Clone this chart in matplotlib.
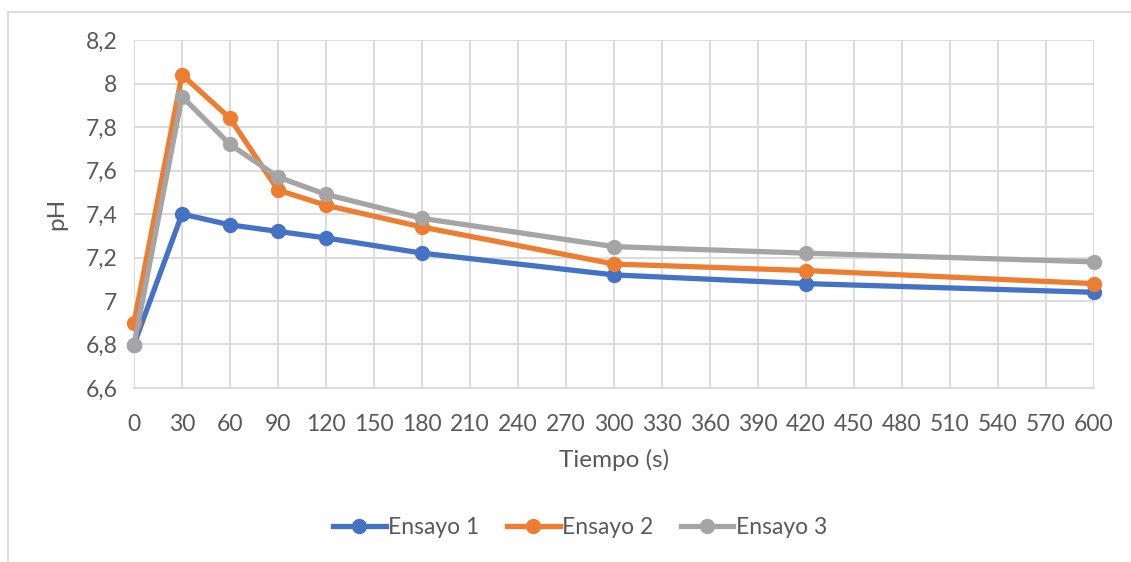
import matplotlib
matplotlib.use("Agg")
import matplotlib.pyplot as plt
from matplotlib.ticker import FuncFormatter, MultipleLocator
from matplotlib.lines import Line2D

# data
tiempo = [0, 30, 60, 90, 120, 180, 300, 420, 600]
ensayo1 = [6.80, 7.40, 7.35, 7.32, 7.29, 7.22, 7.12, 7.08, 7.04]
ensayo2 = [6.90, 8.04, 7.84, 7.51, 7.44, 7.34, 7.17, 7.14, 7.08]
ensayo3 = [6.80, 7.94, 7.72, 7.57, 7.49, 7.38, 7.25, 7.22, 7.18]
nombres = ["Ensayo 1", "Ensayo 2", "Ensayo 3"]
colores = ["#4472C4", "#ED7D31", "#A5A5A5"]

plt.rcParams['font.family'] = ['Lato', 'DejaVu Sans']
txt = "#595959"

fig = plt.figure(figsize=(11.31, 5.62), dpi=100)
ax = fig.add_axes([134 / 1131, 1 - 388 / 562, 960 / 1131, 348 / 562])

for serie, nom, col in zip([ensayo1, ensayo2, ensayo3], nombres, colores):
    ax.plot(tiempo, serie, color=col, lw=3.8, marker='o', markersize=10,
            label=nom, solid_capstyle='round', clip_on=False)

ax.set_xlim(0, 600)
ax.set_ylim(6.6, 8.2)
ax.xaxis.set_major_locator(MultipleLocator(30))
ax.yaxis.set_major_locator(MultipleLocator(0.2))
ax.yaxis.set_major_formatter(FuncFormatter(lambda v, p: f"{round(v, 1):g}".replace('.', ',')))
ax.grid(True, color="#D9D9D9", lw=1.3)
ax.set_axisbelow(True)
for s in ['top', 'right', 'left']:
    ax.spines[s].set_visible(False)
ax.spines['bottom'].set_color("#D9D9D9")
ax.spines['bottom'].set_linewidth(1.3)
ax.tick_params(length=0, labelsize=16.5, colors=txt)
ax.tick_params(axis='x', pad=19)
ax.tick_params(axis='y', pad=12)

ax.set_xlabel("Tiempo (s)", fontsize=17.5, color=txt, labelpad=10)
ax.set_ylabel("pH", fontsize=17.5, color=txt, labelpad=13)

handles = [Line2D([0], [0], color=c, lw=3.8, marker='o', markersize=10) for c in colores]
fig.legend(handles, nombres, loc='center', bbox_to_anchor=(580 / 1131, 1 - 528 / 562),
           ncol=3, frameon=False, fontsize=16.5, labelcolor=txt,
           handlelength=2.3, handletextpad=0.1, columnspacing=1.2)

# chart frame
fig.add_artist(Line2D([8 / 1131, 8 / 1131], [0, 1 - 12 / 562], color="#D9D9D9", lw=1.3,
                      transform=fig.transFigure))
fig.add_artist(Line2D([8 / 1131, 1], [1 - 12 / 562, 1 - 12 / 562], color="#D9D9D9", lw=1.3,
                      transform=fig.transFigure))

fig.savefig("out.png", dpi=100)
